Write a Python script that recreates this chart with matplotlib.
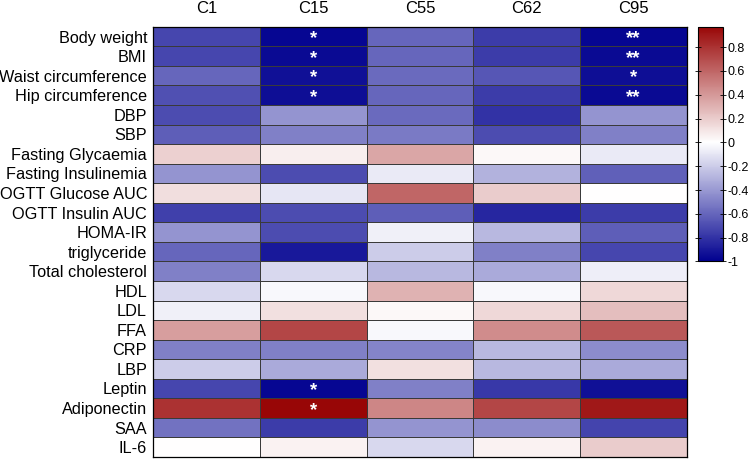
import numpy as np
import matplotlib
matplotlib.use('Agg')
import matplotlib.pyplot as plt
from matplotlib.colors import LinearSegmentedColormap

plt.rcParams['font.family'] = ['Liberation Sans', 'DejaVu Sans']

cols = ['C1', 'C15', 'C55', 'C62', 'C95']
rows = ['Body weight', 'BMI', 'Waist circumference', 'Hip circumference', 'DBP', 'SBP',
        'Fasting Glycaemia', 'Fasting Insulinemia', 'OGTT Glucose AUC', 'OGTT Insulin AUC',
        'HOMA-IR', 'triglyceride', 'Total cholesterol', 'HDL', 'LDL', 'FFA', 'CRP', 'LBP',
        'Leptin', 'Adiponectin', 'SAA', 'IL-6']

corr = [
    [-0.72, -0.97, -0.60, -0.76, -0.97],
    [-0.72, -0.96, -0.60, -0.76, -0.96],
    [-0.60, -0.93, -0.58, -0.66, -0.94],
    [-0.68, -0.94, -0.60, -0.76, -0.96],
    [-0.70, -0.42, -0.58, -0.80, -0.42],
    [-0.63, -0.50, -0.52, -0.70, -0.50],
    [0.18, 0.07, 0.35, 0.03, -0.08],
    [-0.42, -0.70, -0.08, -0.30, -0.62],
    [0.13, -0.10, 0.60, 0.20, 0.00],
    [-0.75, -0.70, -0.63, -0.85, -0.76],
    [-0.42, -0.70, -0.06, -0.28, -0.63],
    [-0.60, -0.90, -0.20, -0.50, -0.72],
    [-0.50, -0.15, -0.28, -0.33, -0.07],
    [-0.15, -0.03, 0.30, -0.03, 0.15],
    [-0.06, 0.12, 0.03, 0.15, 0.25],
    [0.38, 0.72, -0.03, 0.45, 0.65],
    [-0.50, -0.50, -0.48, -0.28, -0.45],
    [-0.20, -0.33, 0.12, -0.28, -0.33],
    [-0.72, -0.97, -0.50, -0.78, -0.93],
    [0.80, 0.97, 0.47, 0.72, 0.90],
    [-0.55, -0.76, -0.42, -0.45, -0.73],
    [0.00, 0.05, -0.15, 0.05, 0.20],
]

stars = {
    (0, 1): '*', (1, 1): '*', (2, 1): '*', (3, 1): '*',
    (0, 4): '**', (1, 4): '**', (2, 4): '*', (3, 4): '**',
    (18, 1): '*', (19, 1): '*',
}

cmap = LinearSegmentedColormap.from_list('bwr2', ['#00008f', '#ffffff', '#960000'])

fig = plt.figure(figsize=(7.5, 4.62), dpi=100)
ax = fig.add_axes([0.204, 0.011, 0.712, 0.931])
data = np.array(corr)
mesh = ax.pcolormesh(data, cmap=cmap, vmin=-1, vmax=1, edgecolors='#3a3a3a', linewidth=0.6)
ax.set_xlim(0, len(cols))
ax.set_ylim(len(rows), 0)
ax.set_xticks(np.arange(len(cols)) + 0.5)
ax.set_xticklabels(cols, fontsize=12)
ax.xaxis.tick_top()
ax.set_yticks(np.arange(len(rows)) + 0.5)
ax.set_yticklabels(rows, fontsize=11.7)
ax.tick_params(length=0, pad=4.3)
ax.tick_params(axis='x', pad=8)
for s in ax.spines.values():
    s.set_linewidth(0.9)

for (r, c), txt in stars.items():
    ax.text(c + 0.5, r + 0.62, txt, color='white', ha='center', va='center',
            fontsize=13.5, fontweight='bold')

cax = fig.add_axes([0.9307, 0.434, 0.0333, 0.508])
cb = fig.colorbar(mesh, cax=cax)
cax.set_ylim(-1, 0.97)
ticks = [0.8, 0.6, 0.4, 0.2, 0, -0.2, -0.4, -0.6, -0.8, -1]
cb.set_ticks(ticks)
cb.set_ticklabels(['%g' % t for t in ticks])
cax.tick_params(labelsize=9, direction='inout', left=True, right=True, length=5, width=0.6, pad=1)
cb.outline.set_linewidth(0.8)

fig.savefig('out.png', dpi=100)
